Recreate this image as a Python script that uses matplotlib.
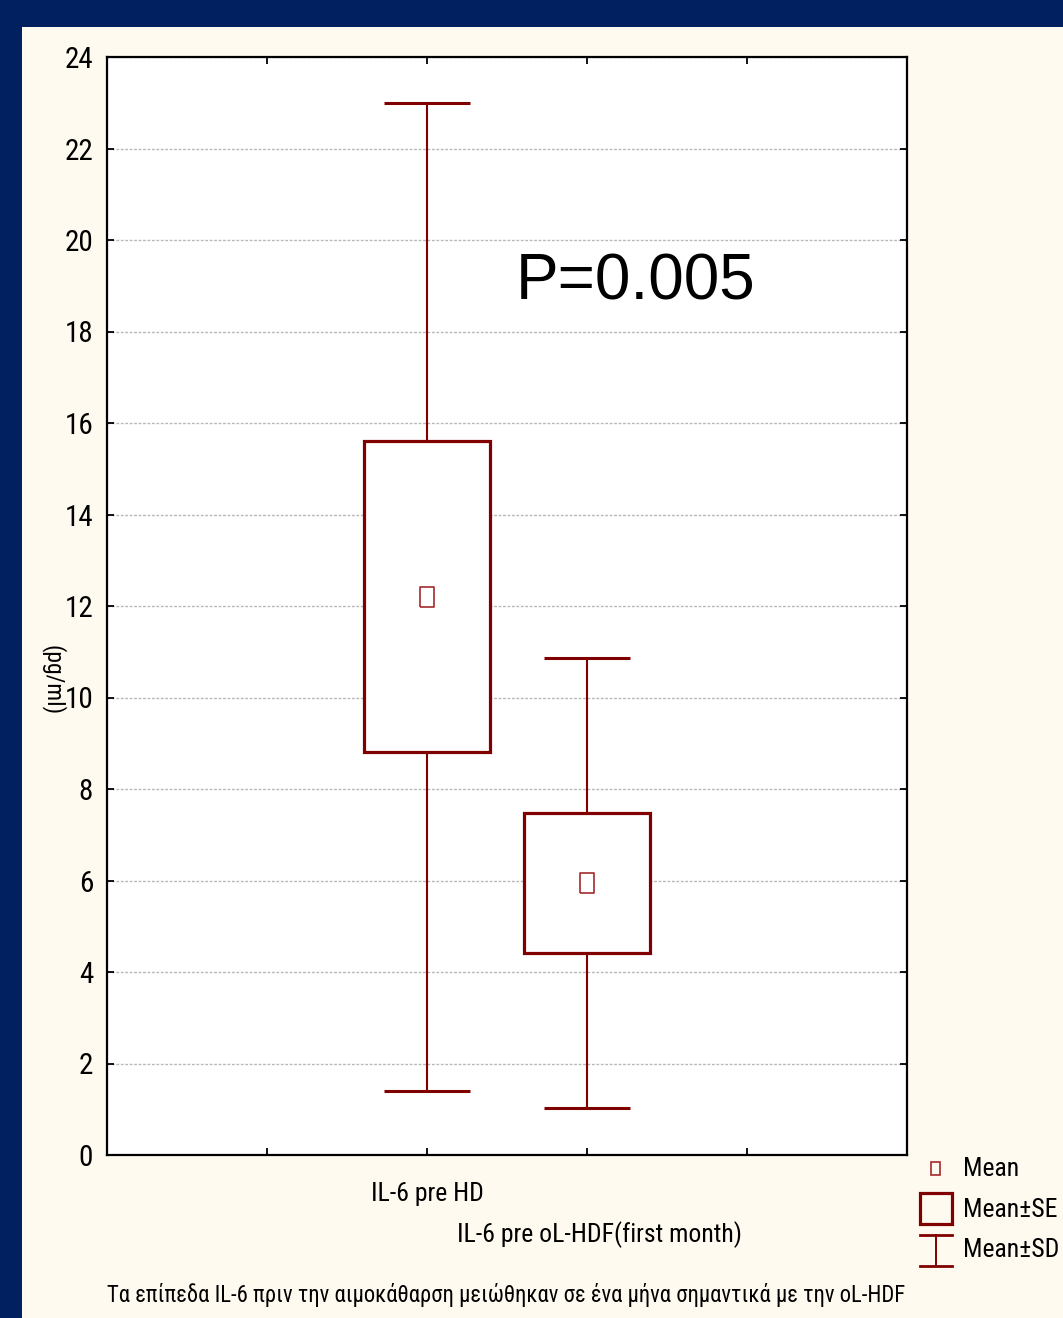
import matplotlib
matplotlib.use('Agg')
import matplotlib.pyplot as plt
from matplotlib.patches import Rectangle
from matplotlib.lines import Line2D
import numpy as np

plt.rcParams['font.family'] = ['Roboto Condensed', 'Fira Sans Condensed', 'DejaVu Sans']

# IL-6 levels (pg/ml): mean, standard error and standard deviation per group
groups = ['IL-6 pre HD', 'IL-6 pre oL-HDF(first month)']
positions = [2, 3]
means = [12.2, 5.95]
se = [3.4, 1.53]
sd = [10.8, 4.92]
yticks = np.arange(0, 25, 2)
p_text = 'P=0.005'
caption = ('Τα επίπεδα IL-6 πριν την αιμοκάθαρση μειώθηκαν σε ένα μήνα '
           'σημαντικά με την oL-HDF')

red = '#800000'
navy = '#002060'
cream = '#FFFAF0'

W, H = 1063, 1318
fig = plt.figure(figsize=(W / 100, H / 100), dpi=100, facecolor=navy)
# cream slide area inside the navy frame
fig.add_artist(Rectangle((22 / W, 0), 1 - 22 / W, (H - 27) / H,
                         transform=fig.transFigure, facecolor=cream,
                         edgecolor='none', zorder=0))

ax = fig.add_axes([107 / W, (H - 1155) / H, 800 / W, 1098 / H])
ax.set_facecolor('white')

m = np.array(means)
s = np.array(se)
d = np.array(sd)
x = np.array(positions, dtype=float)

# whiskers (mean +/- SD) with caps
ax.vlines(x, m - d, m + d, color=red, lw=1.5, zorder=3)
ax.hlines(np.r_[m + d, m - d], np.r_[x, x] - 0.27, np.r_[x, x] + 0.27,
          color=red, lw=2.2, zorder=3)
# boxes (mean +/- SE)
ax.bar(x, 2 * s, bottom=m - s, width=0.79, facecolor='white',
       edgecolor=red, linewidth=2.3, zorder=4)
# mean markers: small open rectangles
rect_marker = [(-0.35, -0.5), (0.35, -0.5), (0.35, 0.5), (-0.35, 0.5), (-0.35, -0.5)]
ax.plot(x, m, linestyle='none', marker=rect_marker, markersize=15,
        markerfacecolor='none', markeredgecolor='#A52A2A', markeredgewidth=1.2,
        zorder=5)

ax.set_xlim(0, 5)
ax.set_ylim(0, 24)
ax.set_yticks(yticks)
ax.set_yticklabels([str(v) for v in yticks])
ax.set_xticks([1, 2, 3, 4])
ax.set_xticklabels([])
ax.tick_params(axis='both', direction='in', length=5, width=1.3,
               top=True, right=True, labelsize=21, colors='black')
ax.tick_params(axis='y', pad=10)

# staggered category labels under the axis
for xpos, name, dx, dy in zip(positions, groups, [0, 9], [-28, -57]):
    ax.annotate(name, xy=(xpos, 0), xycoords=('data', 'axes fraction'),
                xytext=(dx, dy), textcoords='offset points',
                ha='center', va='center', fontsize=18.5,
                annotation_clip=False)

ax.yaxis.grid(True, color='#b8b8b8', linestyle=(0, (2, 1.2)), linewidth=1)
ax.set_axisbelow(True)
for sp in ax.spines.values():
    sp.set_linewidth(1.6)
    sp.set_color('black')

ax.text(3.306, 19.07, p_text, fontsize=46, ha='center', va='center',
        family=['Liberation Sans', 'DejaVu Sans'])

fig.text(53 / W, (H - 680) / H, '(pg/ml)', rotation=270, fontsize=17,
         ha='center', va='center')

fig.text(506 / W, (H - 1295) / H, caption, fontsize=16.3, ha='center',
         va='center')

# legend drawn beside the plot
fig.add_artist(Rectangle((931 / W, (H - 1175) / H), 9 / W, 13 / H,
                         transform=fig.transFigure, facecolor='none',
                         edgecolor='#A52A2A', linewidth=1.2))
fig.add_artist(Rectangle((920 / W, (H - 1224) / H), 32 / W, 31 / H,
                         transform=fig.transFigure, facecolor='none',
                         edgecolor=red, linewidth=2.3))
fig.add_artist(Line2D([920 / W, 952 / W], [(H - 1235) / H] * 2,
                      transform=fig.transFigure, color=red, lw=2))
fig.add_artist(Line2D([920 / W, 952 / W], [(H - 1266) / H] * 2,
                      transform=fig.transFigure, color=red, lw=2))
fig.add_artist(Line2D([936 / W, 936 / W], [(H - 1235) / H, (H - 1266) / H],
                      transform=fig.transFigure, color=red, lw=1.4))
for ty, label in [(1169, 'Mean'), (1210, 'Mean±SE'), (1250, 'Mean±SD')]:
    fig.text(963 / W, (H - ty) / H, label, fontsize=18.5, ha='left', va='center')

fig.savefig('out.png', dpi=100, facecolor=navy)
